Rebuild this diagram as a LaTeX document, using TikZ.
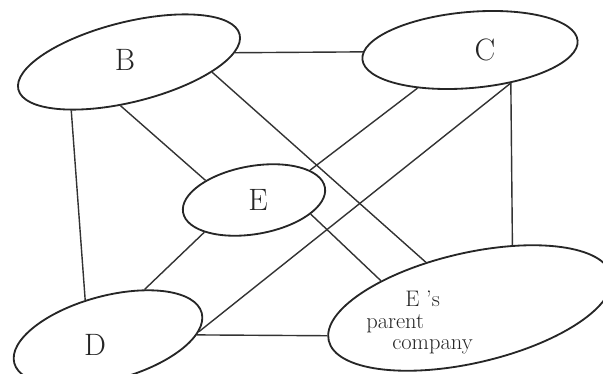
\documentclass[tikz,border=0pt]{standalone}
\usetikzlibrary{shapes.geometric}
\begin{document}
\begin{tikzpicture}[x=0.25mm, y=-0.25mm,
    empresa/.style={ellipse, draw=black!85, line width=1.3pt, inner sep=0pt},
    ligacao/.style={draw=black!80, line width=1pt},
    letra/.style={font=\fontsize{22}{24}\selectfont, text=black!85},
    texto/.style={font=\fontsize{16}{18}\selectfont, text=black!85, anchor=base west, inner sep=0pt}]
  % empresas B, C, D, E e a empresa-mãe de E, ligadas duas a duas
  \useasboundingbox (0,0) rectangle (603,374);
  \node[empresa, minimum width=57mm, minimum height=20mm, rotate=14] (B) at (129,62) {};
  \node[empresa, minimum width=54mm, minimum height=19mm, rotate=5] (C) at (470,50) {};
  \node[empresa, minimum width=36mm, minimum height=17mm, rotate=10] (E) at (254,200) {};
  \node[empresa, minimum width=48.5mm, minimum height=21mm, rotate=15] (D) at (108,338) {};
  \node[empresa, minimum width=72.5mm, minimum height=27.5mm, rotate=13] (PE) at (470,308) {};
  \node[letra] (Bt) at (125,60) {B};
  \node[letra] (Ct) at (485,50) {C};
  \node[letra] (Et) at (258,200) {E};
  \node[letra] (Dt) at (95,345) {D};
  \node[texto] (PE1) at (405,306) {E 's};
  \node[texto] (PE2) at (366,328) {parent};
  \node[texto] (PE3) at (392,349) {company};
  % ligações
  \draw[ligacao] (B.-9) -- (C.176);
  \draw[ligacao] (B.-154) -- (D.106);
  \draw[ligacao] (C.-44) -- (PE.43);
  \draw[ligacao] (D.-13) -- (PE.178);
  \draw[ligacao] (B.-115) -- (E.148);
  \draw[ligacao] (E.18) -- (C.-149);
  \draw[ligacao] (B.-21) -- (PE.121);
  \draw[ligacao] (C.-44) -- (D.-11);
  \draw[ligacao] (E.-24) -- (PE.150);
  \draw[ligacao] (E.-157) -- (D.38);
\end{tikzpicture}
\end{document}
